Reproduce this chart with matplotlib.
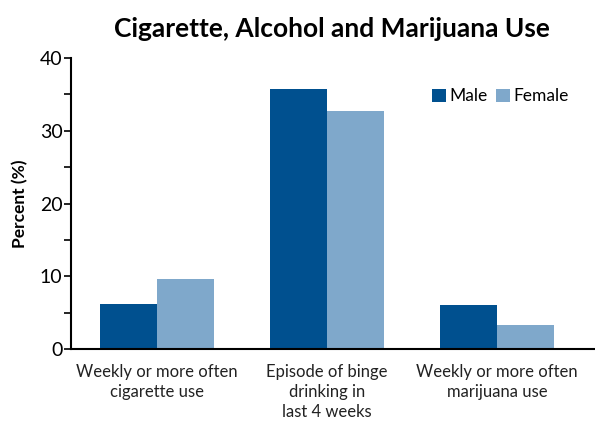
import numpy as np
import matplotlib.pyplot as plt

categories = ["Weekly or more often\ncigarette use",
              "Episode of binge\ndrinking in\nlast 4 weeks",
              "Weekly or more often\nmarijuana use"]
male = [6.2, 35.7, 6.0]
female = [9.6, 32.7, 3.3]

plt.rcParams['font.family'] = ['Lato', 'DejaVu Sans']

fig = plt.figure(figsize=(5.95, 4.21), dpi=100)
ax = fig.add_axes([0.119, 0.171, 0.886, 0.691])

x = np.arange(len(categories))
w = 0.335
ax.bar(x - w/2, male, w, color='#00508f', label='Male')
ax.bar(x + w/2, female, w, color='#7fa8cb', label='Female')

ax.set_xlim(-0.506, 2.594)
ax.set_ylim(0, 40)
ax.set_yticks([0, 10, 20, 30, 40])
ax.set_yticks([5, 15, 25, 35], minor=True)
ax.set_xticks(x)
ax.set_xticklabels(categories, fontsize=12, color='#222222', linespacing=1.3)
ax.tick_params(axis='x', length=0, pad=11)
ax.tick_params(axis='y', which='both', direction='out', length=5, width=1.2, labelsize=14, pad=1)
for s in ['top', 'right']:
    ax.spines[s].set_visible(False)
ax.spines['left'].set_linewidth(1.5)
ax.spines['bottom'].set_linewidth(1.5)

ax.set_ylabel("Percent (%)", fontsize=12.5, fontweight='bold', labelpad=8)
fig.suptitle("Cigarette, Alcohol and Marijuana Use", fontsize=19, fontweight='bold', x=0.558, y=0.96)

ax.legend(loc='upper right', bbox_to_anchor=(0.975, 0.95), ncol=2, frameon=False, fontsize=12.5,
          handlelength=0.8, handleheight=0.8, handletextpad=0.2, columnspacing=0.5)

fig.savefig("out.png", dpi=100)
